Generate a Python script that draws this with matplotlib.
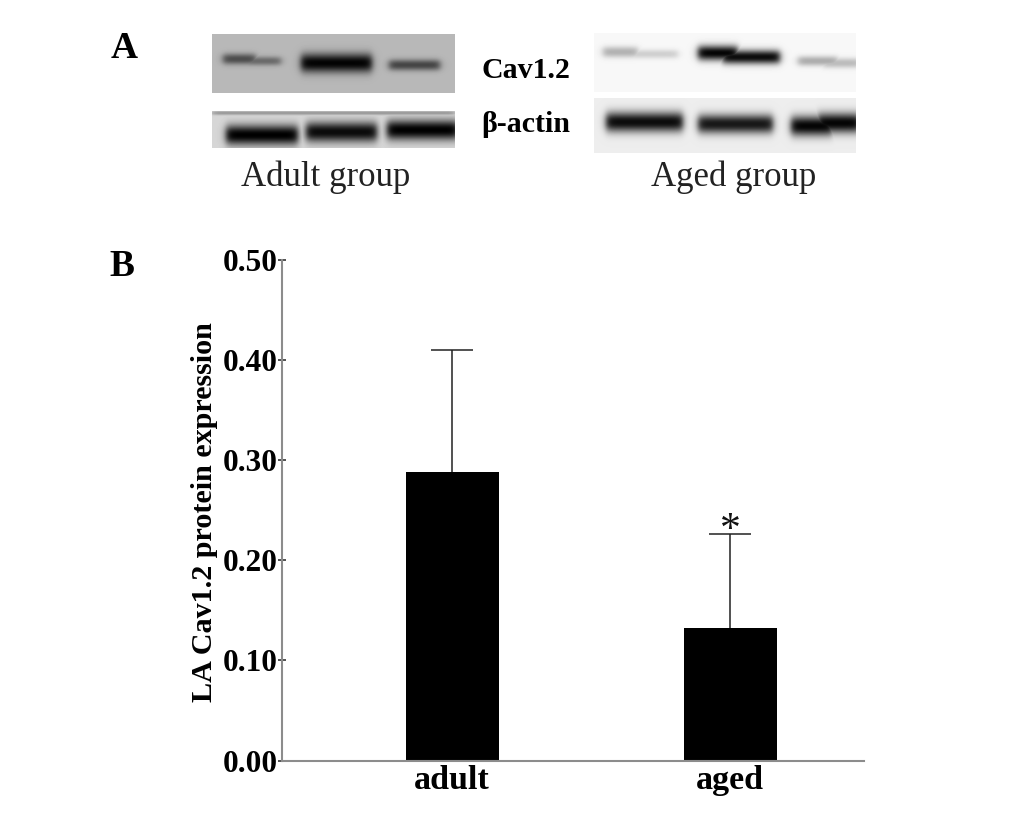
import numpy as np
import matplotlib
matplotlib.use("Agg")
import matplotlib.pyplot as plt

W, H = 1033, 823
groups = ["adult", "aged"]
means = [0.288, 0.132]
err_up = [0.122, 0.094]
yticks = [0.0, 0.1, 0.2, 0.3, 0.4, 0.5]
ylabel = "LA Cav1.2 protein expression"

# western-blot strips: (x0, x1, y0, y1, background grey)
strips = {
    "adult_cav": (212, 455, 34, 93, 0.72),
    "adult_actin": (212, 455, 111, 148, 0.84),
    "aged_cav": (594, 856, 33, 92, 0.97),
    "aged_actin": (594, 856, 98, 153, 0.93),
}
# bands: (x0, x1, y centre, half height, darkness)
bands = {
    "adult_cav": [(223, 256, 59, 5.5, 0.58), (244, 281, 61, 4.5, 0.42), (301, 372, 63, 9.5, 0.98), (389, 440, 65, 5.5, 0.62)],
    "adult_actin": [(212, 455, 113, 2, 0.28), (226, 298, 135, 10, 1.0), (306, 377, 132, 10, 0.95), (387, 458, 130, 10, 1.0)],
    "aged_cav": [(603, 638, 52, 5.5, 0.28), (622, 678, 54, 4.5, 0.16), (698, 738, 53, 7.5, 0.98), (722, 780, 57, 7, 0.95), (798, 838, 61, 5, 0.30), (822, 860, 63, 5, 0.24)],
    "aged_actin": [(606, 683, 122, 10, 0.95), (698, 773, 124, 9.5, 0.90), (791, 833, 126, 10, 0.98), (817, 860, 123, 10, 0.98)],
}

fig = plt.figure(figsize=(W / 100, H / 100), dpi=100, facecolor="white")
serif = ["Liberation Serif", "DejaVu Serif"]


def px_axes(x0, x1, y_top, y_bot, **kw):
    return fig.add_axes([x0 / W, 1 - y_bot / H, (x1 - x0) / W, (y_bot - y_top) / H], **kw)


for name, (x0, x1, y0, y1, bg) in strips.items():
    ax = px_axes(x0, x1, y0, y1)
    xx, yy = np.meshgrid(np.arange(x0, x1) + 0.5, np.arange(y0, y1) + 0.5)
    img = np.full(xx.shape, 0.0)
    for bx0, bx1, yc, hh, d in bands[name]:
        edge = 0.5 * (np.tanh((xx - bx0) / 4) - np.tanh((xx - bx1) / 4))
        img = np.maximum(img, d * edge * np.exp(-np.abs((yy - yc) / hh) ** 2.2))
    img = np.clip(bg * (1 - img), 0, 1)
    ax.imshow(img, cmap="gray", vmin=0, vmax=1, aspect="auto", interpolation="bilinear")
    ax.axis("off")

# bar chart
ax = px_axes(282, 864, 260, 760.5)
ax.set_xlim((282 - 452) / 278, (864 - 452) / 278)
ax.set_ylim(0, 0.5)
x = np.arange(len(groups))
ax.bar(x, means, width=93 / 278, color="black", zorder=2)
eb = ax.errorbar(x, means, yerr=[np.zeros(2), err_up], fmt="none", ecolor="#222222",
                 elinewidth=1.1, capsize=15, capthick=1.1, zorder=1)
eb[1][0].set_visible(False)
for s in ("top", "right"):
    ax.spines[s].set_visible(False)
for s in ("left", "bottom"):
    ax.spines[s].set_color("#8c8c8c")
    ax.spines[s].set_linewidth(1.5)
ax.set_xticks(x)
ax.set_xticklabels(groups, family=serif, fontweight="bold", fontsize=24.5)
ax.tick_params(axis="x", length=0, pad=3)
ax.set_yticks(yticks)
ax.set_yticklabels([f"{v:.2f}" for v in yticks], family=serif, fontweight="bold", fontsize=22.5)
ax.tick_params(axis="y", direction="inout", length=6, width=1.2, color="#333333", pad=0)
ax.patch.set_alpha(0)
ax.annotate("*", xy=(1, means[1] + err_up[1]), xytext=(0, -11), textcoords="offset points",
            ha="center", va="bottom", family=serif, fontsize=30, color="#111111")


def label(px, py, s, size, weight="normal", rot=0, color="black"):
    fig.text(px / W, 1 - py / H, s, family=serif, fontsize=size, fontweight=weight,
             rotation=rot, ha="center", va="center", color=color)


label(204, 512, ylabel, 21.7, "bold", 90)
label(124, 49, "A", 27, "bold")
label(122, 266, "B", 27, "bold")
label(526, 71, "Cav1.2", 21.5, "bold")
label(526, 125, "β-actin", 21.5, "bold")
label(326, 177, "Adult group", 25, color="#222222")
label(734, 177, "Aged group", 25, color="#222222")

fig.savefig("out.png", dpi=100, facecolor="white")
